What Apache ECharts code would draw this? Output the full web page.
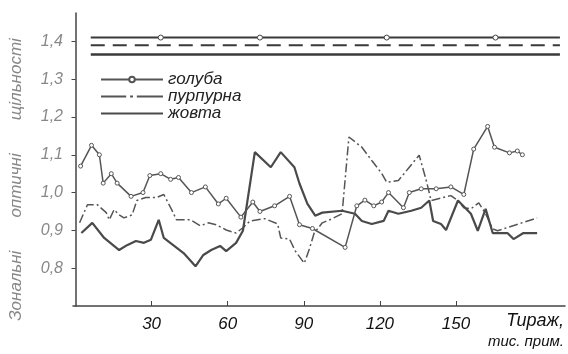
<!DOCTYPE html>
<html>
<head>
<meta charset="utf-8">
<script src="https://cdn.jsdelivr.net/npm/echarts@6/dist/echarts.min.js"></script>
<style>
    html, body { margin:0; padding:0; background:#fff; }
    #chart { width:568px; height:354px; }
</style>
</head>
<body>
<div id="chart"></div>
<script>
    // tick values shown on the axes
    const xTicks = [30, 60, 90, 120, 150]
    const yTicks = [0.8, 0.9, 1.0, 1.1, 1.2, 1.3, 1.4]

    // [тираж, density]
    const blue = [
        [2.0,1.07],[6.3,1.125],[9.4,1.10],[10.9,1.025],[14.1,1.05],[16.4,1.025],[21.9,0.99],
        [26.6,1.00],[29.3,1.045],[33.6,1.05],[37.5,1.035],[40.6,1.04],[45.7,1.00],[51.2,1.015],
        [56.3,0.97],[59.4,0.985],[65.2,0.935],[69.9,0.975],[72.7,0.95],[78.5,0.965],[84.4,0.99],
        [88.3,0.915],[93.4,0.905],[106.3,0.855],[110.9,0.965],[114.1,0.98],[117.6,0.965],
        [120.7,0.975],[123.4,1.00],[129.3,0.96],[131.6,1.00],[136.3,1.01],[142.2,1.01],
        [148.0,1.015],[153.1,0.995],[157.0,1.115],[162.5,1.175],[165.2,1.12],[171.1,1.105],
        [174.2,1.11],[176.2,1.10]
    ]
    const purple = [
        [1.6,0.92],[4.7,0.968],[8.6,0.968],[12.1,0.947],[13.3,0.928],[15.2,0.955],[17.2,0.941],
        [19.1,0.933],[22.3,0.941],[24.2,0.979],[27.7,0.987],[32.0,0.987],[34.8,0.995],[37.9,0.955],
        [39.8,0.928],[45.3,0.928],[49.2,0.912],[52.3,0.92],[55.5,0.915],[59.4,0.901],[63.3,0.893],
        [66.0,0.907],[68.8,0.925],[74.6,0.931],[79.7,0.917],[80.9,0.88],[84.4,0.877],[86.7,0.845],
        [90.2,0.813],[92.2,0.851],[94.1,0.893],[97.3,0.92],[101.2,0.931],[105.1,0.944],[107.8,1.147],
        [112.9,1.12],[116.8,1.085],[120.7,1.051],[122.7,1.027],[127.3,1.032],[131.6,1.067],
        [135.5,1.099],[138.3,1.032],[140.2,0.979],[148.0,0.992],[150.8,0.979],[153.1,0.96],
        [155.9,0.957],[159.0,0.973],[161.7,0.944],[164.5,0.904],[166.4,0.899],[182.0,0.933]
    ]
    const yellow = [
        [2.3,0.893],[6.6,0.92],[11.3,0.88],[17.2,0.848],[20.3,0.861],[23.8,0.872],[27.0,0.867],
        [29.7,0.875],[32.8,0.928],[34.8,0.88],[42.6,0.84],[47.3,0.805],[50.4,0.835],[53.5,0.848],
        [57.0,0.859],[59.4,0.845],[63.3,0.867],[66.0,0.899],[70.7,1.107],[77.0,1.067],[80.9,1.107],
        [86.3,1.067],[88.3,1.024],[91.4,0.971],[94.5,0.939],[97.3,0.947],[105.1,0.952],[110.2,0.944],
        [112.9,0.925],[116.8,0.917],[121.5,0.925],[123.4,0.952],[127.3,0.944],[132.4,0.952],
        [136.3,0.96],[139.5,0.979],[141.0,0.925],[144.1,0.917],[146.1,0.901],[150.8,0.979],
        [155.9,0.944],[158.6,0.899],[161.7,0.957],[164.5,0.893],[170.3,0.893],[172.7,0.877],
        [176.6,0.893],[182.0,0.893]
    ]

    // original (unprinted) levels drawn across the top
    const refLevels = [1.41, 1.39, 1.365]
    const refStart = 6
    const refEnd = 191
    const refMarks = [33.6, 72.7, 122.7, 165.6]

    const font = "'Liberation Sans Narrow', 'Liberation Sans', sans-serif"
    const ink = '#555'

    function refLine(level, type, width, marks){
        var xs = [refStart].concat(marks, [refEnd])
        return {
            type:'line', silent:true, z:1,
            data: xs.map((x, i) => ({
                value:[x, level],
                symbol: (i == 0 || i == xs.length-1) ? 'none' : 'circle'
            })),
            symbolSize:5,
            itemStyle:{ color:'#fff', borderColor:'#444', borderWidth:1 },
            lineStyle:{ color:'#3a3a3a', width:width, type:type },
        }
    }

    var chart = echarts.init(document.getElementById('chart'))
    chart.setOption({
        animation:false,
        grid:{ left:68, right:3, top:13, bottom:48 },
        legend:{
            data:[
                { name:'голуба' },
                { name:'пурпурна', icon:'path://M0,0h26v2h-26z M30,0h3v2h-3z M37,0h27v2h-27z' },
                { name:'жовта', icon:'path://M0,0h64v2h-64z' },
            ],
            orient:'vertical',
            left:95, top:66,
            itemWidth:62, itemHeight:7, itemGap:0,
            textStyle:{ fontFamily:font, fontStyle:'italic', fontSize:17, lineHeight:17, color:'#222', padding:[0,0,0,0] },
        },
        xAxis:{
            type:'value', min:-1, max:193,
            axisLine:{ lineStyle:{ color:'#444', width:1.5 } },
            axisTick:{ inside:true, length:5, customValues:xTicks, lineStyle:{ color:'#444' } },
            axisLabel:{ customValues:xTicks, margin:10, fontFamily:font, fontStyle:'italic', fontSize:17, color:'#111' },
            splitLine:{ show:false },
        },
        yAxis:{
            type:'value', min:0.7, max:1.475,
            name:'Зональні       оптичні       щільності',
            nameLocation:'middle', nameGap:48,
            nameTextStyle:{ fontFamily:font, fontStyle:'italic', fontSize:17, color:'#888', padding:[0,0,0,-40] },
            axisLine:{ show:true, lineStyle:{ color:'#444', width:1.5 } },
            axisTick:{ show:true, length:4, customValues:yTicks, lineStyle:{ color:'#444' } },
            axisLabel:{
                customValues:yTicks, margin:10,
                fontFamily:font, fontStyle:'italic', fontSize:16, color:'#888',
                formatter:(v) => v.toFixed(1).replace('.', ','),
            },
            splitLine:{ show:false },
        },
        graphic:[
            { type:'text', right:4, top:312, style:{ text:'Тираж,', font:"italic 18px " + font, fill:'#111' } },
            { type:'text', right:4, top:334, style:{ text:'тис. прим.', font:"italic 15px " + font, fill:'#111' } },
        ],
        series:[
            refLine(refLevels[0], 'solid', 2, refMarks),
            refLine(refLevels[1], [14,8], 2, []),
            refLine(refLevels[2], 'solid', 2.5, []),
            {
                type:'line', name:'голуба', data:blue, z:3,
                symbol:'circle', symbolSize:4,
                itemStyle:{ color:'#fff', borderColor:ink, borderWidth:1 },
                lineStyle:{ color:ink, width:1.5 },
            },
            {
                type:'line', name:'пурпурна', data:purple, z:2,
                showSymbol:false, symbol:'none',
                itemStyle:{ color:ink },
                lineStyle:{ color:ink, width:1.5, type:[9,3,2,3] },
            },
            {
                type:'line', name:'жовта', data:yellow, z:2,
                showSymbol:false, symbol:'none',
                itemStyle:{ color:'#4a4a4a' },
                lineStyle:{ color:'#4a4a4a', width:2.2 },
            },
        ]
    })
</script>
</body>
</html>
